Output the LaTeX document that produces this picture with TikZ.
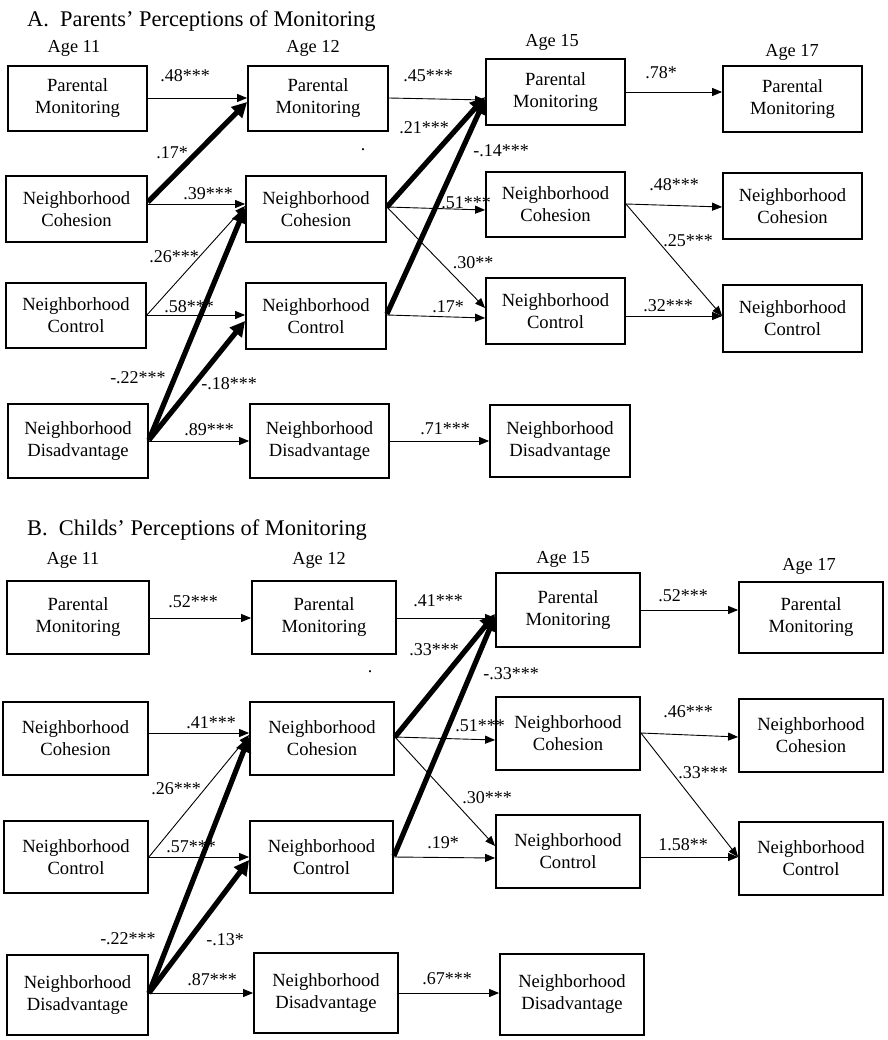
\documentclass[tikz,border=0pt]{standalone}
\usepackage{fontspec}
\setmainfont{Liberation Serif}
\usetikzlibrary{arrows.meta}
\newcommand\bx[6]{\node[box,minimum width={#4-#2},minimum height={#5-#3}] (#1) at ({(#2+#4)/2},{(#3+#5)/2}) {#6};}
\begin{document}
\begin{tikzpicture}[x=1pt,y=-1pt,
  box/.style={draw,line width=1.8pt,inner sep=0pt,align=center,font=\fontsize{18.6}{22}\selectfont},
  tn/.style={line width=0.9pt,-{Triangle[length=10pt,width=8pt]}},
  tk/.style={line width=5.2pt,-{Triangle[length=15pt,width=15pt]}},
  lab/.style={font=\fontsize{18}{20}\selectfont,inner sep=0pt},
  age/.style={font=\fontsize{18.3}{20}\selectfont,anchor=base,inner sep=0pt},
  ttl/.style={font=\fontsize{22.4}{24}\selectfont,anchor=base west,inner sep=0pt}]
\useasboundingbox (0,0) rectangle (887,1040);

% ---------------- Panel A ----------------
\node[ttl] (ta) at (27,27) {A.\ \ Parents’ Perceptions of Monitoring};
\node[age] (ga11) at (74,53) {Age 11};
\node[age] (ga12) at (313,53) {Age 12};
\node[age] (ga15) at (552,47) {Age 15};
\node[age] (ga17) at (792,57) {Age 17};

\bx{a1pm}{8}{66}{147}{131}{Parental\\Monitoring}
\bx{a2pm}{248}{66}{388}{131}{Parental\\Monitoring}
\bx{a3pm}{486}{59}{625}{125}{Parental\\Monitoring}
\bx{a4pm}{723}{66}{862}{132}{Parental\\Monitoring}
\bx{a1nc}{6}{176}{147}{242}{Neighborhood\\Cohesion}
\bx{a2nc}{246}{176}{386}{242}{Neighborhood\\Cohesion}
\bx{a3nc}{486}{172}{625}{237}{Neighborhood\\Cohesion}
\bx{a4nc}{723}{173}{862}{239}{Neighborhood\\Cohesion}
\bx{a1ct}{6}{283}{146}{348}{Neighborhood\\Control}
\bx{a2ct}{246}{283}{386}{349}{Neighborhood\\Control}
\bx{a3ct}{486}{278}{625}{344}{Neighborhood\\Control}
\bx{a4ct}{723}{285}{862}{352}{Neighborhood\\Control}
\bx{a1nd}{8}{404}{148}{478}{Neighborhood\\Disadvantage}
\bx{a2nd}{250}{404}{389}{478}{Neighborhood\\Disadvantage}
\bx{a3nd}{490}{405}{630}{477}{Neighborhood\\Disadvantage}

\draw[tn] (a1pm.east |- 0,98) -- (a2pm.west |- 0,98);
\draw[tk] (a1nc.east |- 0,202) -- (a2pm.west |- 0,102);
\draw[tn] (a1nc.east |- 0,204) -- (a2nc.west |- 0,204);
\draw[tn] (a1ct.east |- 0,315) -- (a2nc.west |- 0,206);
\draw[tn] (a1ct.east |- 0,315) -- (a2ct.west |- 0,315);
\draw[tk] (a1nd.east |- 0,440) -- (a2nc.west |- 0,208);
\draw[tk] (a1nd.east |- 0,440) -- (a2ct.west |- 0,321);
\draw[tn] (a1nd.east |- 0,441) -- (a2nd.west |- 0,441);
\draw[tn] (a2nd.east |- 0,441) -- (a3nd.west |- 0,441);
\draw[tn] (a2pm.east |- 0,98) -- (a3pm.west |- 0,100);
\draw[tk] (a2nc.east |- 0,207) -- (a3pm.west |- 0,97);
\draw[tk] (a2ct.east |- 0,314) -- (a3pm.west |- 0,99);
\draw[tn] (a2nc.east |- 0,207) -- (a3nc.west |- 0,210);
\draw[tn] (a2nc.east |- 0,207) -- (a3ct.west |- 0,308);
\draw[tn] (a2ct.east |- 0,315) -- (a3ct.west |- 0,318);
\draw[tn] (a3pm.east |- 0,92) -- (a4pm.west |- 0,92);
\draw[tn] (a3nc.east |- 0,204) -- (a4nc.west |- 0,207);
\draw[tn] (a3nc.east |- 0,204) -- (a4ct.west |- 0,316);
\draw[tn] (a3ct.east |- 0,316) -- (a4ct.west |- 0,316);

\node[lab] (la1) at (185,76) {.48***};
\node[lab] (la2) at (172,153) {.17*};
\node[lab] (la3) at (208,194) {.39***};
\node[lab] (la4) at (174,257) {.26***};
\node[lab] (la5) at (189,307) {.58***};
\node[lab] (la6) at (138,378) {-.22***};
\node[lab] (la7) at (229,384) {-.18***};
\node[lab] (la8) at (209,430) {.89***};
\node[lab] (la9) at (445,429) {.71***};
\node[lab] (la10) at (428,76) {.45***};
\node[lab] (la11) at (424,128) {.21***};
\node[lab] (la12) at (501,151) {-.14***};
\node[lab] (la13) at (466,203) {.51***};
\node[lab] (la14) at (473,263) {.30**};
\node[lab] (la15) at (448,307) {.17*};
\node[lab] (la16) at (661,73) {.78*};
\node[lab] (la17) at (674,185) {.48***};
\node[lab] (la18) at (688,241) {.25***};
\node[lab] (la19) at (668,306) {.32***};
\node[lab] (dota) at (363,150) {.};

% ---------------- Panel B ----------------
\node[ttl] (tb) at (27,535) {B.\ \ Childs’ Perceptions of Monitoring};
\node[age] (gb11) at (73,564) {Age 11};
\node[age] (gb12) at (319,564) {Age 12};
\node[age] (gb15) at (563,563) {Age 15};
\node[age] (gb17) at (809,570) {Age 17};

\bx{b1pm}{7}{581}{149}{654}{Parental\\Monitoring}
\bx{b2pm}{252}{581}{396}{654}{Parental\\Monitoring}
\bx{b3pm}{496}{573}{640}{647}{Parental\\Monitoring}
\bx{b4pm}{739}{582}{883}{653}{Parental\\Monitoring}
\bx{b1nc}{3}{702}{148}{775}{Neighborhood\\Cohesion}
\bx{b2nc}{250}{702}{394}{775}{Neighborhood\\Cohesion}
\bx{b3nc}{496}{697}{640}{770}{Neighborhood\\Cohesion}
\bx{b4nc}{739}{699}{883}{772}{Neighborhood\\Cohesion}
\bx{b1ct}{4}{821}{148}{893}{Neighborhood\\Control}
\bx{b2ct}{250}{821}{393}{893}{Neighborhood\\Control}
\bx{b3ct}{496}{815}{640}{888}{Neighborhood\\Control}
\bx{b4ct}{739}{822}{883}{895}{Neighborhood\\Control}
\bx{b1nd}{7}{955}{148}{1035}{Neighborhood\\Disadvantage}
\bx{b2nd}{254}{953}{398}{1033}{Neighborhood\\Disadvantage}
\bx{b3nd}{500}{954}{644}{1035}{Neighborhood\\Disadvantage}

\draw[tn] (b1pm.east |- 0,618) -- (b2pm.west |- 0,618);
\draw[tn] (b1nc.east |- 0,733) -- (b2nc.west |- 0,733);
\draw[tn] (b1ct.east |- 0,857) -- (b2nc.west |- 0,735);
\draw[tn] (b1ct.east |- 0,857) -- (b2ct.west |- 0,857);
\draw[tk] (b1nd.east |- 0,993) -- (b2nc.west |- 0,737);
\draw[tk] (b1nd.east |- 0,993) -- (b2ct.west |- 0,860);
\draw[tn] (b1nd.east |- 0,993) -- (b2nd.west |- 0,993);
\draw[tn] (b2nd.east |- 0,993) -- (b3nd.west |- 0,993);
\draw[tn] (b2pm.east |- 0,618) -- (b3pm.west |- 0,618);
\draw[tk] (b2nc.east |- 0,737) -- (b3pm.west |- 0,614);
\draw[tk] (b2ct.east |- 0,856) -- (b3pm.west |- 0,616);
\draw[tn] (b2nc.east |- 0,737) -- (b3nc.west |- 0,740);
\draw[tn] (b2nc.east |- 0,737) -- (b3ct.west |- 0,846);
\draw[tn] (b2ct.east |- 0,857) -- (b3ct.west |- 0,858);
\draw[tn] (b3pm.east |- 0,610) -- (b4pm.west |- 0,610);
\draw[tn] (b3nc.east |- 0,733) -- (b4nc.west |- 0,737);
\draw[tn] (b3nc.east |- 0,733) -- (b4ct.west |- 0,857);
\draw[tn] (b3ct.east |- 0,857) -- (b4ct.west |- 0,857);

\node[lab] (lb1) at (193,602) {.52***};
\node[lab] (lb2) at (211,723) {.41***};
\node[lab] (lb3) at (176,789) {.26***};
\node[lab] (lb4) at (191,847) {.57***};
\node[lab] (lb5) at (128,939) {-.22***};
\node[lab] (lb6) at (225,940) {-.13*};
\node[lab] (lb7) at (212,980) {.87***};
\node[lab] (lb8) at (447,979) {.67***};
\node[lab] (lb9) at (438,601) {.41***};
\node[lab] (lb10) at (434,650) {.33***};
\node[lab] (lb11) at (511,674) {-.33***};
\node[lab] (lb12) at (480,726) {.51***};
\node[lab] (lb13) at (487,798) {.30***};
\node[lab] (lb14) at (443,843) {.19*};
\node[lab] (lb15) at (683,596) {.52***};
\node[lab] (lb16) at (688,712) {.46***};
\node[lab] (lb17) at (703,773) {.33***};
\node[lab] (lb18) at (683,845) {1.58**};
\node[lab] (dotb) at (370,672) {.};
\end{tikzpicture}
\end{document}
